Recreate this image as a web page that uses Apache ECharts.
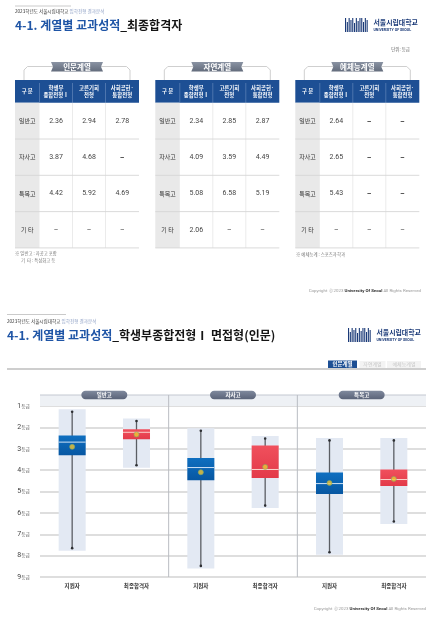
<!DOCTYPE html>
<html><head><meta charset="utf-8">
<script src="https://cdn.jsdelivr.net/npm/echarts/dist/echarts.min.js"></script>
<style>html,body{margin:0;padding:0;background:#fff;}#c{width:444px;height:622px;}</style>
</head><body><div id="c"></div>
<script>
// ---------- DATA ----------
const tableTracks = ['인문계열', '자연계열', '예체능계열'];
const tableHeaders = ['구 분', '학생부\n종합전형Ⅰ', '고른기회\n전형', '사회공헌·\n통합전형'];
const schoolTypes = ['일반고', '자사고', '특목고', '기 타'];
const humanitiesValues = [['2.36', '2.94', '2.78'], ['3.87', '4.68', '-'], ['4.42', '5.92', '4.69'], ['–', '–', '–']];
const scienceValues = [['2.34', '2.85', '2.87'], ['4.09', '3.59', '4.49'], ['5.08', '6.58', '5.19'], ['2.06', '–', '–']];
const artsValues = [['2.64', '-', '-'], ['2.65', '-', '-'], ['5.43', '-', '-'], ['–', '–', '–']];

const boxGroups = ['일반고', '자사고', '특목고'];
const boxCategories = ['지원자', '최종합격자', '지원자', '최종합격자', '지원자', '최종합격자'];
const boxMin = [1.27, 1.70, 2.16, 2.52, 2.61, 2.61];
const boxQ1 = [2.38, 2.09, 3.43, 2.85, 4.11, 3.97];
const boxMedian = [2.69, 2.23, 3.88, 3.97, 4.63, 4.44];
const boxQ3 = [3.30, 2.56, 4.47, 4.37, 5.12, 4.74];
const boxMax = [7.65, 3.77, 8.48, 5.66, 7.84, 6.40];
const boxMean = [2.91, 2.33, 4.10, 3.85, 4.60, 4.41];
const gradeUnit = '등급';

// ---------- HELPERS ----------
const FF = '"Noto Sans CJK KR","Noto Sans",sans-serif';
const NAVY = '#1d4f94';
const G = [];
function T(x, y, text, o) {
  o = o || {};
  const st = Object.assign({
    text: text, fill: '#333', fontSize: 6, fontFamily: FF, fontWeight: 'normal',
    align: 'left', verticalAlign: 'middle', textAlign: 'left', textVerticalAlign: 'middle'
  }, o);
  if (o.align) st.textAlign = o.align;
  if (o.verticalAlign) st.textVerticalAlign = o.verticalAlign;
  G.push({ type: 'text', x: x, y: y, silent: true, z: 10, style: st });
}
function R(x, y, w, h, fill, r) {
  G.push({ type: 'rect', silent: true, z: 5, shape: { x: x, y: y, width: w, height: h, r: r || 0 }, style: { fill: fill } });
}
function L(x1, y1, x2, y2, stroke, lw, z) {
  G.push({ type: 'line', silent: true, z: z || 6, shape: { x1: x1, y1: y1, x2: x2, y2: y2 }, style: { stroke: stroke, lineWidth: lw || 1 } });
}
function logo(x, y) {
  const hs = [14, 10, 14, 12, 14, 9, 14, 11, 14, 14, 10, 14, 12];
  hs.forEach(function (h, i) { R(x + i * 1.8, y + 14 - h, 1.1, h, '#1b3a78'); });
  T(x + 28.5, y + 4.2, '서울시립대학교', { fontSize: 6.9, fontWeight: 'bold', fill: '#1b3a78' });
  T(x + 28.5, y + 12, 'UNIVERSITY OF SEOUL', { fontSize: 3.6, fontWeight: 'bold', fill: '#1b3a78', fontFamily: 'Roboto' });
}
function richTitle(x, y, a, b) {
  G.push({ type: 'text', x: x, y: y, silent: true, z: 10, style: {
    text: '{a|' + a + '}{b|' + b + '}', align: 'left', verticalAlign: 'middle', textAlign: 'left', textVerticalAlign: 'middle',
    rich: {
      a: { fill: '#1f55a6', color: '#1f55a6', fontSize: 12, fontWeight: 'bold', fontFamily: FF },
      b: { fill: '#151515', color: '#151515', fontSize: 12, fontWeight: 'bold', fontFamily: FF }
    } } });
}
function subHead(x, y) {
  G.push({ type: 'text', x: x, y: y, silent: true, z: 10, style: {
    text: '{a|2023학년도 서울시립대학교 }{b|입학전형 결과분석}', align: 'left', verticalAlign: 'middle', textAlign: 'left', textVerticalAlign: 'middle',
    rich: {
      a: { fill: '#333', color: '#333', fontSize: 4.6, fontFamily: FF },
      b: { fill: '#8d9fc4', color: '#8d9fc4', fontSize: 4.6, fontFamily: FF }
    } } });
}
function copyright(x, y) {
  G.push({ type: 'text', x: x, y: y, silent: true, z: 10, style: {
    text: '{g|Copyright ⓒ 2023 }{b|University Of Seoul}{g| All Rights Reserved}', align: 'right', verticalAlign: 'middle', textAlign: 'right', textVerticalAlign: 'middle',
    rich: {
      g: { fill: '#9a9a9a', color: '#9a9a9a', fontSize: 4.4, fontFamily: 'Roboto' },
      b: { fill: '#333', color: '#333', fontSize: 4.4, fontFamily: 'Roboto', fontWeight: 'bold' }
    } } });
}

// ---------- TOP SLIDE ----------
L(15, 6, 71, 6, '#bdbdbd', 0.8);
subHead(15, 11);
richTitle(15, 25, '4-1. 계열별 교과성적', '_최종합격자');
logo(345, 18);
T(410, 49, '단위: 등급', { fontSize: 4.5, fill: '#666', align: 'right' });

const tableX = [15, 155.3, 295.3];
const tableValues = [humanitiesValues, scienceValues, artsValues];
const colW = [24.5, 33, 33, 33.5];
const headTop = 80, headH = 22.7, rowH = 36.3;
tableX.forEach(function (x0, t) {
  const W = colW.reduce(function (a, b) { return a + b; }, 0);
  const cx = x0 + W / 2;
  G.push({ type: 'polyline', silent: true, z: 4, shape: { points: [[x0 + 9, headTop], [x0 + 9, 70], [x0 + 12.5, 66.5], [cx - 24, 66.5]] }, style: { stroke: '#cfcfcf', lineWidth: 1, fill: null } });
  G.push({ type: 'polyline', silent: true, z: 4, shape: { points: [[x0 + W - 9, headTop], [x0 + W - 9, 70], [x0 + W - 12.5, 66.5], [cx + 24, 66.5]] }, style: { stroke: '#cfcfcf', lineWidth: 1, fill: null } });
  G.push({ type: 'polygon', silent: true, z: 5, shape: { points: [[cx - 26, 62], [cx + 26, 62], [cx + 24, 66.8], [cx + 26, 71.5], [cx - 26, 71.5], [cx - 24, 66.8]] },
    style: { fill: new echarts.graphic.LinearGradient(0, 0, 0, 1, [{ offset: 0, color: '#8a93a3' }, { offset: 1, color: '#636c7c' }]) } });
  T(cx, 67, tableTracks[t], { fontSize: 7.5, fontWeight: 'bold', fill: '#fff', align: 'center' });
  R(x0, headTop, W, headH, NAVY);
  let cxs = [], xx = x0;
  colW.forEach(function (w, c) {
    cxs.push(xx + w / 2);
    if (c > 0) L(xx, headTop + 3, xx, headTop + headH, '#6f8fc0', 0.6, 7);
    xx += w;
  });
  tableHeaders.forEach(function (h, c) {
    T(cxs[c], headTop + headH / 2, h, { fontSize: 5.4, fontWeight: 'bold', fill: '#fff', align: 'center', lineHeight: 7 });
  });
  const bodyTop = headTop + headH;
  R(x0, bodyTop, colW[0], rowH * 4, '#e9e9e9');
  xx = x0 + colW[0];
  for (let c = 1; c < colW.length; c++) {
    if (c > 1) L(xx, bodyTop, xx, bodyTop + rowH * 4, '#e2e2e2', 0.7);
    xx += colW[c];
  }
  for (let r = 0; r < 4; r++) {
    const yb = bodyTop + rowH * (r + 1);
    L(x0, yb, x0 + W, yb, '#d6d6d6', 0.9);
    const yc = bodyTop + rowH * (r + 0.5);
    T(cxs[0], yc, schoolTypes[r], { fontSize: 6, fill: '#333', align: 'center' });
    tableValues[t][r].forEach(function (v, c) {
      const isDash = v === '-';
      T(cxs[c + 1], yc, isDash ? '–' : v, { fontSize: isDash ? 8 : 7, fontWeight: isDash ? 'bold' : 'normal', fill: isDash ? '#222' : '#444', align: 'center', fontFamily: isDash ? FF : '"Liberation Sans Narrow","Roboto",sans-serif' });
    });
  }
});
T(15, 253.5, '※ 일반고 : 자공고 포함', { fontSize: 4.4, fill: '#777' });
T(21, 260.5, '기  타 : 특성화고 등', { fontSize: 4.4, fill: '#777' });
T(296, 254, '※ 예체능계 : 스포츠과학과', { fontSize: 4.4, fill: '#777' });
copyright(421, 291);

// ---------- BOTTOM SLIDE ----------
L(7, 314.5, 66, 314.5, '#bdbdbd', 0.8);
subHead(7, 321.5);
richTitle(7, 335, '4-1. 계열별 교과성적', '_학생부종합전형Ⅰ 면접형(인문)');
logo(348, 328);
R(328, 360.5, 29, 7.5, NAVY);
T(342.5, 364.3, '인문계열', { fontSize: 5.5, fontWeight: 'bold', fill: '#fff', align: 'center' });
R(359.5, 361, 26, 7, '#f3f3f3');
T(372.5, 364.5, '자연계열', { fontSize: 5, fill: '#c9c9c9', align: 'center' });
R(387, 361, 34, 7, '#f3f3f3');
T(404, 364.5, '예체능계열', { fontSize: 5, fill: '#c9c9c9', align: 'center' });
L(7, 369, 426, 369, '#9d9d9d', 1.2);
copyright(426, 609);

// ---------- CHART ----------
const chart = echarts.init(document.getElementById('c'), null, { renderer: 'canvas' });
const boxData = boxCategories.map(function (c, i) { return [i, boxMin[i], boxQ1[i], boxMedian[i], boxQ3[i], boxMax[i]]; });
const meanData = boxMean.map(function (v, i) { return [i, v]; });

chart.setOption({
  animation: false,
  backgroundColor: '#fff',
  grid: { left: 40, right: 18, top: 406, bottom: 45 },
  xAxis: {
    type: 'category', data: boxCategories, boundaryGap: true,
    axisLine: { show: false }, axisTick: { show: false }, splitLine: { show: false },
    axisLabel: { fontSize: 5.5, color: '#333', fontWeight: 'bold', fontFamily: FF, margin: 6, interval: 0 }
  },
  yAxis: {
    type: 'value', inverse: true, min: 1, max: 9, interval: 1,
    axisLine: { show: false }, axisTick: { show: false },
    splitLine: { show: true, lineStyle: { color: '#d3d3d3', width: 1.5 } },
    axisLabel: {
      margin: 10, formatter: function (v) { return '{a|' + v + '}{b|' + gradeUnit + '}'; },
      rich: { a: { fontSize: 7, color: '#444', fontFamily: 'Roboto' }, b: { fontSize: 4.8, color: '#555', fontFamily: FF } }
    }
  },
  series: [
    {
      type: 'custom', data: boxData, encode: { x: 0, y: [1, 2, 3, 4, 5] }, z: 3,
      renderItem: function (params, api) {
        const i = api.value(0);
        const cx = api.coord([i, 1])[0];
        const yMin = api.coord([i, api.value(1)])[1];
        const yQ1 = api.coord([i, api.value(2)])[1];
        const yMed = api.coord([i, api.value(3)])[1];
        const yQ3 = api.coord([i, api.value(4)])[1];
        const yMax = api.coord([i, api.value(5)])[1];
        const w = api.size([1, 0])[0] * 0.42;
        const blue = i % 2 === 0;
        const grad = new echarts.graphic.LinearGradient(0, 0, 0, 1, blue
          ? [{ offset: 0, color: '#0f6fc0' }, { offset: 1, color: '#0757a2' }]
          : [{ offset: 0, color: '#f0505d' }, { offset: 1, color: '#e33a49' }]);
        return {
          type: 'group', children: [
            { type: 'rect', shape: { x: cx - w / 2, y: yMin - 2.5, width: w, height: yMax - yMin + 5 }, style: { fill: '#e3e9f3' } },
            { type: 'line', shape: { x1: cx, y1: yMin, x2: cx, y2: yMax }, style: { stroke: '#5b5e64', lineWidth: 1.3 } },
            { type: 'rect', shape: { x: cx - w / 2, y: yQ1, width: w, height: yQ3 - yQ1 }, style: { fill: grad } },
            { type: 'line', shape: { x1: cx - w / 2, y1: yMed, x2: cx + w / 2, y2: yMed }, style: { stroke: blue ? '#cfe2f6' : '#f9d3cc', lineWidth: 1 } },
            { type: 'circle', shape: { cx: cx, cy: yMin, r: 1.3 }, style: { fill: '#2d2f33' } },
            { type: 'circle', shape: { cx: cx, cy: yMax, r: 1.3 }, style: { fill: '#2d2f33' } }
          ]
        };
      }
    },
    {
      type: 'scatter', data: meanData, symbolSize: 5, z: 5,
      itemStyle: { color: '#f4c531', borderColor: '#86a865', borderWidth: 0.8 }
    }
  ]
});

const p0 = chart.convertToPixel({ gridIndex: 0 }, [0, 1]);
const p1 = chart.convertToPixel({ gridIndex: 0 }, [1, 1]);
const p9 = chart.convertToPixel({ gridIndex: 0 }, [0, 9]);
const catW = p1[0] - p0[0];
const left = p0[0] - catW / 2, right = left + catW * boxCategories.length;
const topY = p0[1] - 11;
R(left, topY, right - left, 11, '#eef1f5');
L(left, topY, right, topY, '#c3c8d1', 1);
[1.5, 3.5].forEach(function (k) { L(left + catW * (k + 0.5), topY, left + catW * (k + 0.5), p9[1], '#b9bcc2', 1); });
boxGroups.forEach(function (g, k) {
  const gx = left + catW * (2 * k + 1);
  G.push({ type: 'rect', silent: true, z: 8, shape: { x: gx - 23, y: topY - 4.2, width: 46, height: 8.4, r: 4.2 },
    style: { fill: new echarts.graphic.LinearGradient(0, 0, 0, 1, [{ offset: 0, color: '#7f899d' }, { offset: 1, color: '#5b6479' }]) } });
  T(gx, topY, g, { fontSize: 5.5, fontWeight: 'bold', fill: '#fff', align: 'center' });
});
chart.setOption({ graphic: { elements: G } });
</script></body></html>
